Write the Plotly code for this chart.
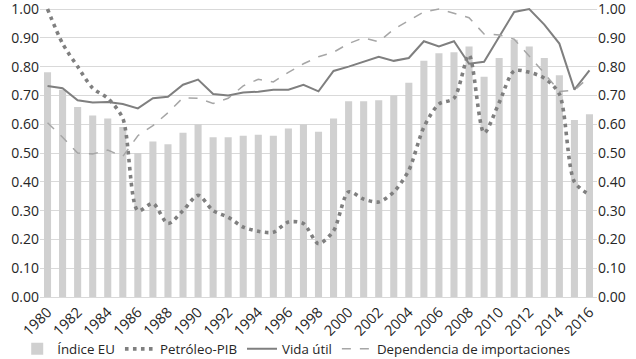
import plotly.graph_objects as go

years = list(range(1980, 2017))
indice_eu = [0.78, 0.72, 0.66, 0.63, 0.62, 0.59, 0.50, 0.54, 0.53, 0.57, 0.60, 0.555,
             0.555, 0.56, 0.563, 0.56, 0.585, 0.60, 0.574, 0.62, 0.68, 0.68, 0.683, 0.70,
             0.744, 0.82, 0.846, 0.85, 0.87, 0.765, 0.83, 0.893, 0.87, 0.83, 0.77, 0.615, 0.635]
petroleo_pib = [1.00, 0.88, 0.80, 0.725, 0.69, 0.62, 0.30, 0.325, 0.255, 0.30, 0.353, 0.30,
                0.277, 0.243, 0.228, 0.225, 0.26, 0.255, 0.185, 0.23, 0.365, 0.34, 0.33, 0.365,
                0.44, 0.59, 0.67, 0.69, 0.84, 0.57, 0.675, 0.785, 0.78, 0.76, 0.705, 0.40, 0.355]
vida_util = [0.733, 0.725, 0.683, 0.675, 0.677, 0.67, 0.655, 0.69, 0.695, 0.737, 0.755, 0.705,
             0.70, 0.71, 0.713, 0.72, 0.72, 0.737, 0.714, 0.785, 0.80, 0.818, 0.834, 0.82,
             0.83, 0.888, 0.87, 0.888, 0.81, 0.817, 0.905, 0.99, 1.00, 0.946, 0.88, 0.72, 0.787]
dependencia = [0.605, 0.555, 0.50, 0.497, 0.51, 0.488, 0.56, 0.595, 0.64, 0.692, 0.69, 0.672,
               0.69, 0.733, 0.756, 0.747, 0.78, 0.81, 0.834, 0.85, 0.88, 0.90, 0.886, 0.93,
               0.96, 0.99, 1.00, 0.986, 0.97, 0.913, 0.91, 0.895, 0.837, 0.777, 0.714, 0.718, 0.765]

tick_years = list(range(1980, 2017, 2))
y_ticks = [i / 10 for i in range(11)]
y_labels = [f"{v:.2f}" for v in y_ticks]

FONT = "Open Sans"
TXT = "#262626"
YR = [0, 1.007]
fig = go.Figure()
fig.add_trace(go.Bar(x=years, y=indice_eu, name="Índice EU",
                     marker=dict(color="#d0d0d0", line=dict(width=0))))
fig.add_trace(go.Scatter(x=years, y=petroleo_pib, name="Petróleo-PIB", mode="lines",
                         line=dict(color="#7f7f7f", width=3.6, dash="3.6px,4.4px",
                                   shape="spline", smoothing=0.8)))
fig.add_trace(go.Scatter(x=years, y=vida_util, name="Vida útil", mode="lines",
                         line=dict(color="#7f7f7f", width=2)))
fig.add_trace(go.Scatter(x=years, y=dependencia, name="Dependencia de importaciones", mode="lines",
                         line=dict(color="#a6a6a6", width=1.5, dash="dash")))
# invisible trace to show right axis
fig.add_trace(go.Scatter(x=years, y=dependencia, yaxis="y2", mode="lines", showlegend=False,
                         line=dict(width=0), hoverinfo="skip", opacity=0))

fig.update_layout(
    width=636, height=359,
    margin=dict(l=40, r=39, t=7, b=62, autoexpand=False),
    paper_bgcolor="white", plot_bgcolor="white",
    font=dict(family=FONT, size=14, color=TXT),
    bargap=0.53,
    xaxis=dict(range=[1979.5, 2016.5], tickvals=tick_years, ticktext=[str(y) for y in tick_years],
               tickangle=-45, showgrid=False, showline=True, linecolor="#d9d9d9", linewidth=1,
               ticks="", automargin=False, tickfont=dict(size=14.5, color=TXT),
               ticklabeloverflow="allow"),
    yaxis=dict(range=YR, tickvals=y_ticks, ticktext=y_labels, showgrid=True,
               gridcolor="#d9d9d9", gridwidth=1, zeroline=False, ticks="", automargin=False,
               tickfont=dict(size=14, color=TXT), ticklabeloverflow="allow"),
    yaxis2=dict(range=YR, tickvals=y_ticks, ticktext=y_labels, overlaying="y", side="right",
                showgrid=False, zeroline=False, ticks="", automargin=False,
                tickfont=dict(size=14, color=TXT), ticklabeloverflow="allow"),
    legend=dict(orientation="h", x=0.46, xanchor="center", y=-0.18, yanchor="middle",
                font=dict(size=13.3, color=TXT), itemwidth=30, tracegroupgap=0,
                bgcolor="rgba(0,0,0,0)"),
)

fig.write_html("out.html", config={"displayModeBar": False},
               post_script="document.body.style.margin='0';")
